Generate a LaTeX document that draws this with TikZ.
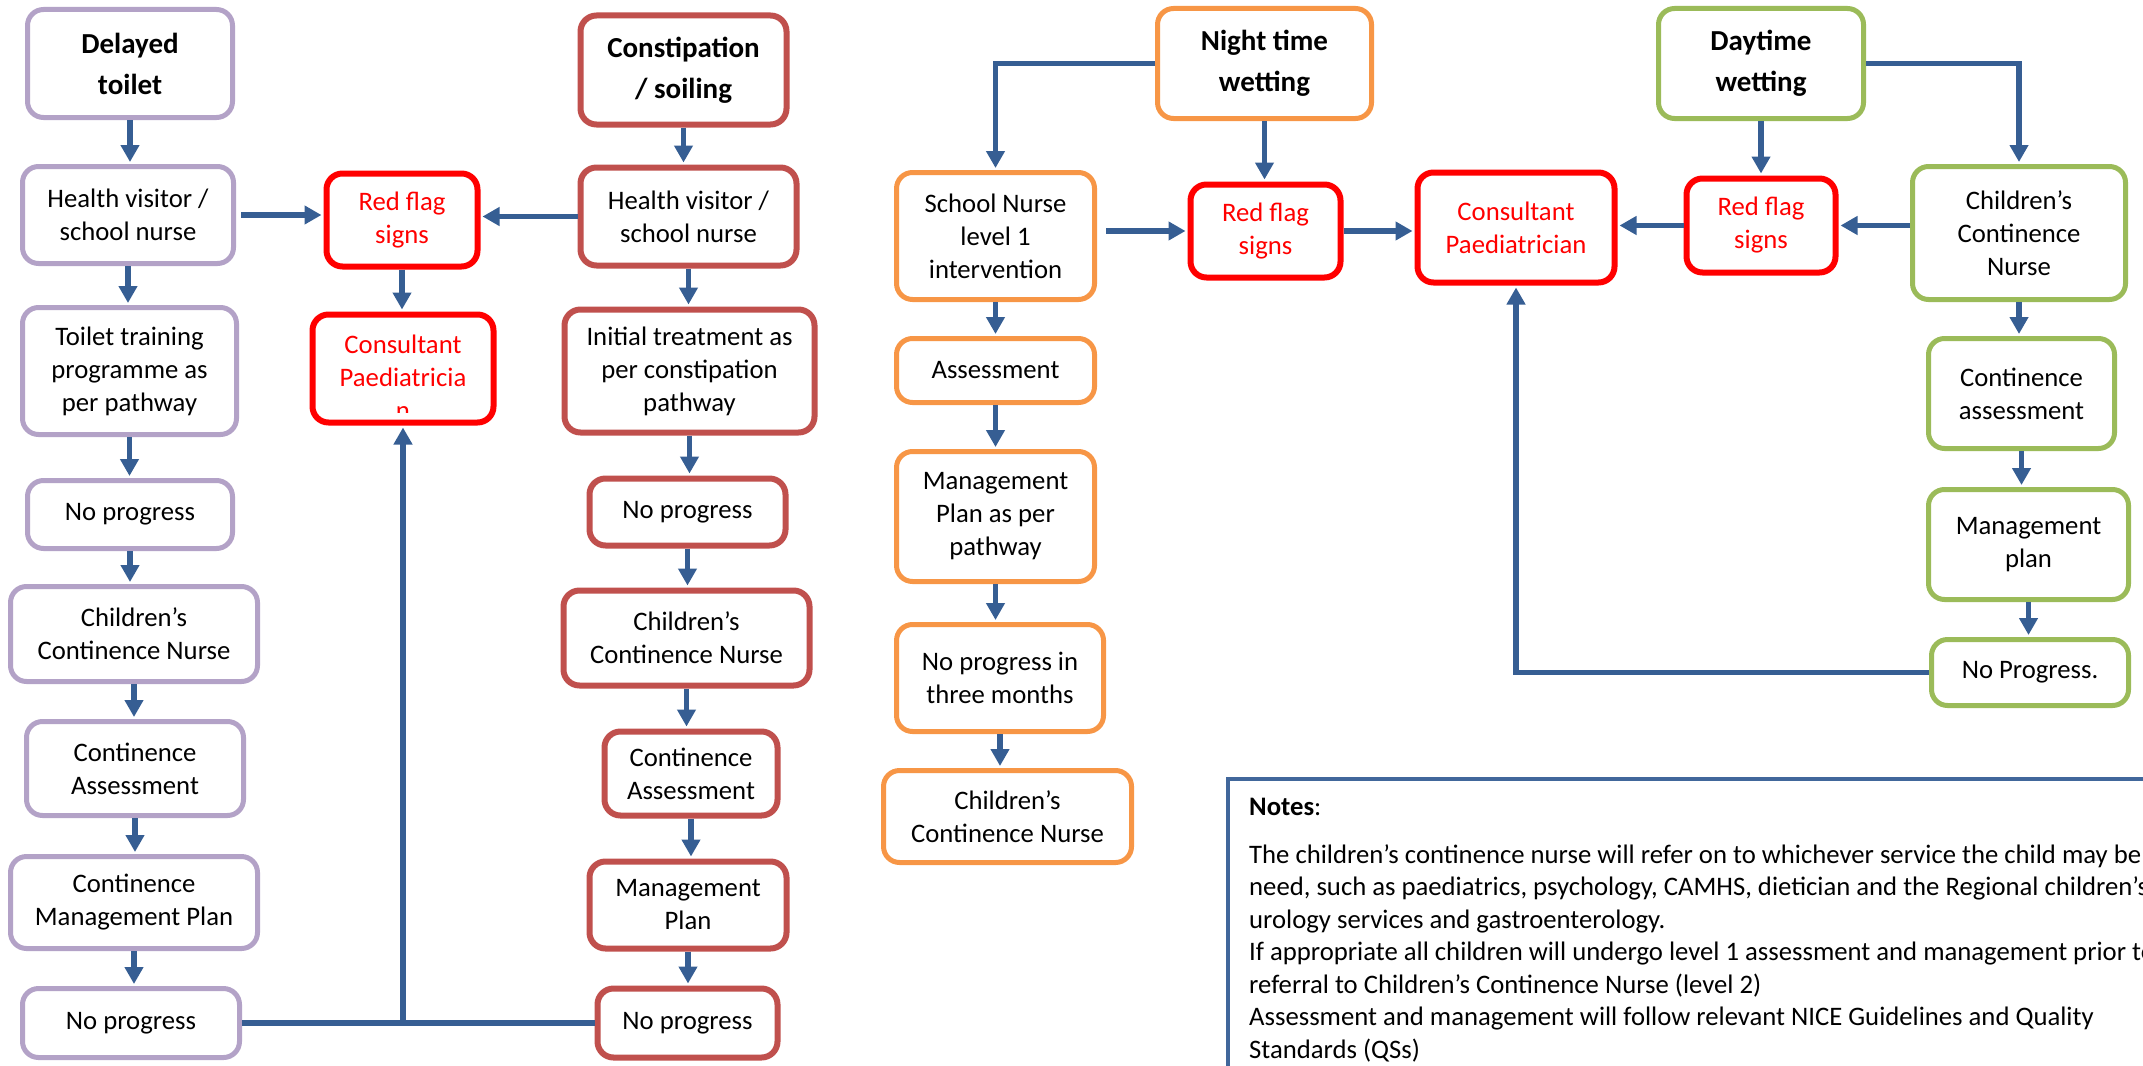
\documentclass[tikz,border=0pt]{standalone}
\usepackage{fontspec}
\setmainfont{Carlito}
\usetikzlibrary{arrows.meta}
\definecolor{cpurple}{HTML}{B3A2C7}
\definecolor{cbrown}{HTML}{C0504D}
\definecolor{corange}{HTML}{F79646}
\definecolor{cgreen}{HTML}{9BBB59}
\definecolor{cred}{HTML}{FF0000}
\definecolor{cblue}{HTML}{365E93}
\definecolor{cnotes}{HTML}{41679B}
\newcommand\mybox[7]{\node[#6, minimum width={(#4)-(#2)-5}, minimum height={(#5)-(#3)-5}] (#1) at ({((#2)+(#4))/2},{((#3)+(#5))/2}) {#7};}
\begin{document}
\begin{tikzpicture}[x=1pt,y=-1pt,
  base/.style={rounded corners=16pt, line width=5pt, align=center, inner sep=2pt, fill=white, font=\fontsize{26.7}{33}\selectfont},
  pbox/.style={base, draw=cpurple},
  rbox/.style={base, draw=cbrown, line width=6pt},
  obox/.style={base, draw=corange},
  gbox/.style={base, draw=cgreen},
  flagbox/.style={base, draw=cred, line width=6pt, text=cred},
  ttl/.style={font=\fontsize{29}{41}\selectfont\bfseries},
  flagtext/.style={align=center, text=cred, inner sep=0pt, font=\fontsize{26.7}{33}\selectfont},
  notetext/.style={anchor=base west, inner sep=0pt, font=\fontsize{26.7}{33}\selectfont},
  arr/.style={draw=cblue, line width=5.5pt, -{Triangle[length=17pt,width=18pt]}, shorten >=2pt},
  conn/.style={draw=cblue, line width=5.5pt},
]
\useasboundingbox (0,0) rectangle (2143,1065);
\begin{scope}
\clip (0,0) rectangle (2143,1065);
% purple column
\mybox{p1}{25}{7}{235}{120}{pbox,ttl}{Delayed\\toilet}
\mybox{p2}{20}{164}{236}{266}{pbox}{Health visitor /\\school nurse}
\mybox{p3}{20}{305}{239}{437}{pbox}{Toilet training\\programme as\\per pathway}
\mybox{p4}{25}{478}{235}{551}{pbox}{No progress}
\mybox{p5}{8}{584}{260}{684}{pbox}{Children’s\\Continence Nurse}
\mybox{p6}{24}{719}{246}{818}{pbox}{Continence\\Assessment}
\mybox{p7}{8}{854}{260}{951}{pbox}{Continence\\Management Plan}
\mybox{p8}{20}{986}{242}{1060}{pbox}{No progress}
% red-brown column
\mybox{r1}{578}{13}{789}{127}{rbox,ttl}{Constipation\\/ soiling}
\mybox{r2}{578}{165}{799}{268}{rbox}{Health visitor /\\school nurse}
\mybox{r3}{562}{307}{817}{435}{rbox}{Initial treatment as\\per constipation\\pathway}
\mybox{r4}{587}{476}{788}{548}{rbox}{No progress}
\mybox{r5}{561}{588}{812}{688}{rbox}{Children’s\\Continence Nurse}
\mybox{r6}{602}{729}{780}{818}{rbox}{Continence\\Assessment}
\mybox{r7}{587}{859}{789}{951}{rbox}{Management\\Plan}
\mybox{r8}{595}{986}{780}{1060}{rbox}{No progress}
% red flags left
\mybox{rf1}{324}{171}{480}{269}{flagbox}{Red flag\\signs}
\mybox{cp1}{310}{312}{496}{425}{flagbox}{}
\begin{scope}
\clip (318,318) rectangle (488,412);
\node[flagtext] (cp1t) at (403,377) {Consultant\\Paediatricia\\n};
\end{scope}
% orange column
\mybox{o1}{1155}{6}{1374}{121}{obox,ttl}{Night time\\wetting}
\mybox{o2}{894}{170}{1097}{302}{obox}{School Nurse\\level 1\\intervention}
\mybox{o3}{894}{336}{1097}{405}{obox}{Assessment}
\mybox{o4}{894}{449}{1097}{584}{obox}{Management\\Plan as per\\pathway}
\mybox{o5}{894}{622}{1106}{734}{obox}{No progress in\\three months}
\mybox{o6}{881}{768}{1134}{865}{obox}{Children’s\\Continence Nurse}
% red middle
\mybox{rf2}{1188}{182}{1343}{280}{flagbox}{Red flag\\signs}
\mybox{cp2}{1415}{170}{1617}{285}{flagbox}{Consultant\\Paediatrician}
\mybox{rf3}{1684}{176}{1838}{275}{flagbox}{Red flag\\signs}
% green column
\mybox{g1}{1656}{6}{1866}{121}{gbox,ttl}{Daytime\\wetting}
\mybox{g2}{1910}{164}{2128}{302}{gbox}{Children’s\\Continence\\Nurse}
\mybox{g3}{1926}{336}{2117}{451}{gbox}{Continence\\assessment}
\mybox{g4}{1926}{487}{2131}{602}{gbox}{Management\\plan}
\mybox{g5}{1929}{637}{2131}{708}{gbox}{No Progress.}
% connectors left
\draw[arr] (p1.south) -- (p1.south |- p2.north);
\draw[arr] (p2.south) -- (p2.south |- p3.north);
\draw[arr] (p3.south) -- (p3.south |- p4.north);
\draw[arr] (p4.south) -- (p4.south |- p5.north);
\draw[arr] (p5.south) -- (p5.south |- p6.north);
\draw[arr] (p6.south) -- (p6.south |- p7.north);
\draw[arr] (p7.south) -- (p7.south |- p8.north);
\draw[arr] (r1.south) -- (r1.south |- r2.north);
\draw[arr] (r2.south) -- (r2.south |- r3.north);
\draw[arr] (r3.south) -- (r3.south |- r4.north);
\draw[arr] (r4.south) -- (r4.south |- r5.north);
\draw[arr] (r5.south) -- (r5.south |- r6.north);
\draw[arr] (r6.south) -- (r6.south |- r7.north);
\draw[arr] (r7.south) -- (r7.south |- r8.north);
\draw[arr] ([xshift=5pt]p2.east) -- (p2.east -| rf1.west);
\draw[arr] (r2.west) -- (r2.west -| rf1.east);
\draw[arr] (rf1.south) -- (rf1.south |- cp1.north);
\draw[conn] (p8.east) -- (r8.west);
\coordinate (j1) at (cp1.south |- p8.east);
\draw[arr] (j1) -- (cp1.south);
% connectors right
\draw[arr] (o1.west) -| (o2.north);
\draw[arr] (o1.south) -- (o1.south |- rf2.north);
\draw[arr] ([xshift=9pt]o2.east |- rf2.west) -- (rf2.west);
\draw[arr] (rf2.east) -- (rf2.east -| cp2.west);
\draw[arr] (o2.south) -- (o2.south |- o3.north);
\draw[arr] (o3.south) -- (o3.south |- o4.north);
\draw[arr] (o4.south) -- (o4.south |- o5.north);
\draw[arr] (o5.south) -- (o5.south |- o6.north);
\draw[arr] (rf3.west) -- (rf3.west -| cp2.east);
\draw[arr] (g2.west |- rf3.east) -- (rf3.east);
\draw[arr] (g1.south) -- (g1.south |- rf3.north);
\draw[arr] (g1.east) -| (g2.north);
\draw[arr] (g2.south) -- (g2.south |- g3.north);
\draw[arr] (g3.south) -- (g3.south |- g4.north);
\draw[arr] (g4.south) -- (g4.south |- g5.north);
\draw[arr] (g5.west) -| (cp2.south);
% notes
\node[draw=cnotes, line width=3.5pt, anchor=north west, minimum width=1000, minimum height=400, inner sep=0pt] (notes) at (1226,777) {};
\node[notetext] (n0) at (1249,815) {\textbf{Notes}:};
\node[notetext] (n1) at (1249,863) {The children’s continence nurse will refer on to whichever service the child may be};
\node[notetext] (n2) at (1249,895.5) {need, such as paediatrics, psychology, CAMHS, dietician and the Regional children’s};
\node[notetext] (n3) at (1249,928) {urology services and gastroenterology.};
\node[notetext] (n4) at (1249,960.5) {If appropriate all children will undergo level 1 assessment and management prior to};
\node[notetext] (n5) at (1249,993) {referral to Children’s Continence Nurse (level 2)};
\node[notetext] (n6) at (1249,1025.5) {Assessment and management will follow relevant NICE Guidelines and Quality};
\node[notetext] (n7) at (1249,1058) {Standards (QSs)};
\end{scope}
\end{tikzpicture}
\end{document}
